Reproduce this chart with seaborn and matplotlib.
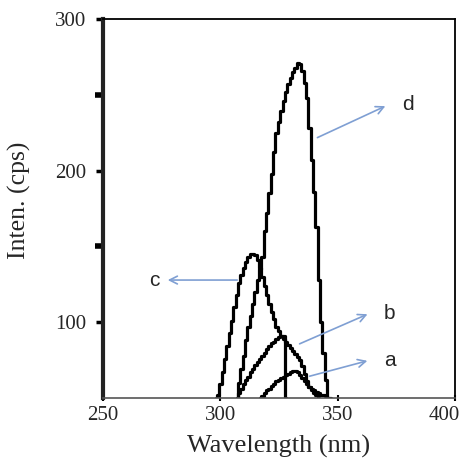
import matplotlib
matplotlib.use("Agg")
import matplotlib.pyplot as plt
import matplotlib.transforms as mtransforms
import seaborn as sns
import pandas as pd
from matplotlib.ticker import FixedLocator

# ---- data ----
wl_a = list(range(317, 348))
int_a = [50, 51, 53, 55, 56, 58, 59, 61, 62, 63, 64, 65, 66, 67, 68, 68, 67, 65, 63,
         61, 59, 57, 56, 55, 54, 53, 52, 52, 51, 50, 50]

wl_b = list(range(307, 329))
int_b = [50, 53, 56, 59, 62, 64, 67, 69, 72, 74, 76, 78, 80, 82, 84, 86, 87, 89, 90,
         91, 91, 50]

wl_c = list(range(298, 343))
int_c = [50, 52, 59, 67, 76, 84, 93, 101, 110, 118, 126, 131, 136, 140, 143, 145, 145,
         144, 141, 136, 130, 124, 118, 112, 107, 102, 97, 94, 91, 89, 87, 85, 83, 81,
         79, 77, 75, 71, 66, 61, 57, 55, 53, 52, 50]

wl_d = list(range(307, 347))
int_d = [50, 60, 69, 78, 88, 97, 104, 112, 120, 128, 135, 143, 160, 172, 185, 198, 212,
         225, 232, 239, 246, 252, 257, 261, 265, 268, 271, 270, 266, 258, 248, 228, 207,
         186, 163, 128, 100, 80, 62, 50]

series_names = ["a", "b", "c", "d"]
x_ticks = [250, 300, 350, 400]
y_ticks = [100, 200, 300]
y_minor = [150, 250]

# label annotations: (text, arrow tail x,y, arrow head x,y)
annots = [
    ("d", 340.3, 221, 371.4, 243.3),
    ("c", 308.4, 127.8, 276.4, 127.8),
    ("b", 332.7, 85, 363.8, 106),
    ("a", 336.9, 63.9, 363.8, 75),
]

rows = []
for name, xs, ys in zip(series_names, [wl_a, wl_b, wl_c, wl_d], [int_a, int_b, int_c, int_d]):
    for x, y in zip(xs, ys):
        rows.append({"wl": x, "inten": y, "s": name})
df = pd.DataFrame(rows)

sns.set_style("white")
plt.rcParams["font.family"] = ["Liberation Serif", "DejaVu Serif"]

fig = plt.figure(figsize=(4.65, 4.59), dpi=100)
ax = fig.add_axes([0.2215, 0.1329, 0.757, 0.8257])

sns.lineplot(data=df, x="wl", y="inten", hue="s", units="s", estimator=None,
             palette={n: "black" for n in series_names}, legend=False,
             linewidth=2.3, drawstyle="steps-mid", ax=ax)

ax.set_xlim(250, 400)
ax.set_ylim(50, 300)
ax.xaxis.set_major_locator(FixedLocator(x_ticks))
ax.yaxis.set_major_locator(FixedLocator(y_ticks))
ax.yaxis.set_minor_locator(FixedLocator(y_minor))

ax.tick_params(axis="y", which="major", direction="out", length=5, width=2.5,
               color="black", labelsize=15, pad=7, left=True)
ax.tick_params(axis="y", which="minor", direction="out", length=6, width=4,
               color="black", left=True)
ax.tick_params(axis="x", which="major", direction="inout", length=4, width=1.5,
               color="black", labelsize=15, pad=4, bottom=True)

for side in ["top", "right"]:
    ax.spines[side].set_visible(True)
    ax.spines[side].set_color("black")
    ax.spines[side].set_linewidth(1.3)
ax.spines["left"].set_color("#222222")
ax.spines["left"].set_linewidth(3)
ax.spines["bottom"].set_color("#555555")
ax.spines["bottom"].set_linewidth(1.2)

ax.set_xlabel("Wavelength (nm)", fontsize=19, labelpad=7)
ax.set_ylabel("Inten. (cps)", fontsize=18.5)
ax.yaxis.set_label_coords(-0.205, 0.522)

# shift the last x tick label left so it stays inside the figure
fig.canvas.draw()
last = ax.get_xticklabels()[-1]
last.set_transform(last.get_transform() +
                   mtransforms.ScaledTranslation(-11 / 100, 0, fig.dpi_scale_trans))

arrow_col = "#7f9fd3"
for t, x0, y0, x1, y1 in annots:
    ax.annotate("", xy=(x1, y1), xytext=(x0, y0),
                arrowprops=dict(arrowstyle="->", color=arrow_col, lw=1.2,
                                mutation_scale=14))
    if t == "c":
        ax.text(x1 - 2.5, y1, t, fontsize=15, family="Liberation Sans",
                ha="right", va="center")
    else:
        ax.text(x1 + 6, y1, t, fontsize=15, family="Liberation Sans",
                ha="left", va="center")

fig.savefig("out.png", dpi=100)
